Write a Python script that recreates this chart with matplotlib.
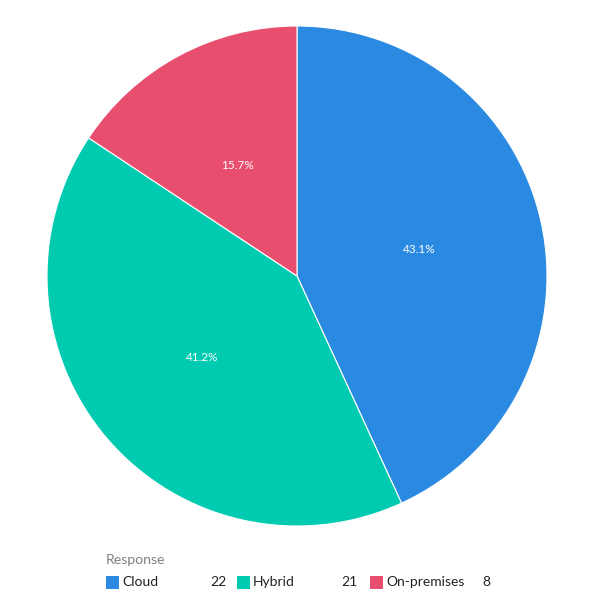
import matplotlib.pyplot as plt
from matplotlib.patches import Rectangle

# Data
labels = ['Cloud', 'Hybrid', 'On-premises']
counts = [22, 21, 8]
colors = ['#2a8ae2', '#00cbb0', '#e84e6e']

plt.rcParams['font.family'] = ['Lato', 'DejaVu Sans']

fig = plt.figure(figsize=(6, 6), dpi=100)
ax = fig.add_axes([47 / 600, 74 / 600, 500 / 600, 500 / 600])

wedges, texts, autotexts = ax.pie(
    counts, colors=colors, startangle=90, counterclock=False,
    autopct='%.1f%%', pctdistance=0.5, radius=1,
    wedgeprops=dict(edgecolor='white', linewidth=0.8),
    textprops=dict(color='white', fontsize=8.5))
ax.set_xlim(-1, 1)
ax.set_ylim(-1, 1)
ax.set_aspect('equal')
ax.axis('off')

# Legend drawn by hand
fig.text(106 / 600, 1 - 560 / 600, 'Response', fontsize=10.2, color='#808080',
         va='center', ha='left')
sq_x = [106, 237, 370]
num_x = [227, 358, 490]
y_c = 1 - 582 / 600
for i, (lab, n, c) in enumerate(zip(labels, counts, colors)):
    fig.patches.append(Rectangle((sq_x[i] / 600, y_c - 6.5 / 600), 13 / 600, 13 / 600,
                                 transform=fig.transFigure, facecolor=c, edgecolor='none'))
    fig.text((sq_x[i] + 16) / 600, y_c, lab, fontsize=10, color='#222222',
             va='center', ha='left')
    fig.text(num_x[i] / 600, y_c, str(n), fontsize=10, color='#222222',
             va='center', ha='right')

plt.savefig('out.png', dpi=100)
